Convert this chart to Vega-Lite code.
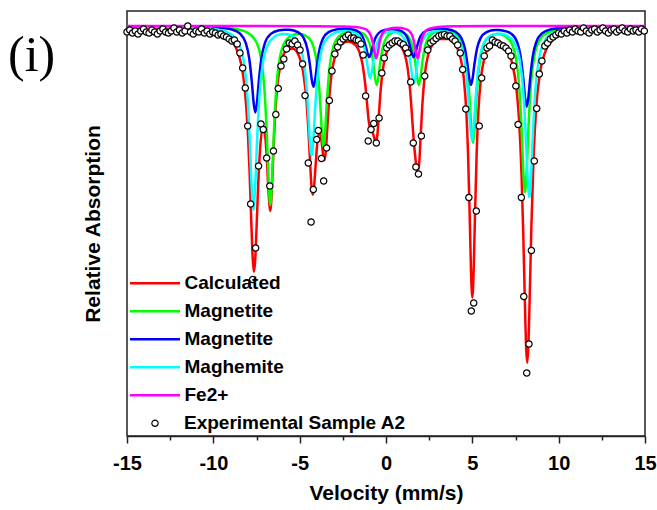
{
"$schema": "https://vega.github.io/schema/vega-lite/v6.json",
"width": 518,
"height": 425,
"autosize": {"type": "none"},
"padding": {"left": 127, "top": 11, "right": 12, "bottom": 74},
"background": "white",
"title": {"text": "(i)", "orient": "top", "anchor": "start", "frame": "group", "offset": 0, "baseline": "alphabetic", "dx": -119, "dy": 110, "font": "Liberation Serif", "fontSize": 50, "fontWeight": "normal", "color": "black"},
"config": {"view": {"stroke": "#222222", "strokeWidth": 1.5}, "axis": {"grid": false}},
"datasets": {
"calc": [{"v":-15,"a":0.9},{"v":-13,"a":1.5},{"v":-11,"a":3.2},{"v":-10,"a":5.6},{"v":-9.5,"a":8.4},{"v":-9,"a":14.2},{"v":-8.7,"a":21.5},{"v":-8.4,"a":37.2},{"v":-8.2,"a":59.5},{"v":-8,"a":106.4},{"v":-7.9,"a":146.3},{"v":-7.8,"a":196.6},{"v":-7.72,"a":232.4},{"v":-7.65,"a":245.8},{"v":-7.58,"a":235.5},{"v":-7.5,"a":203.3},{"v":-7.4,"a":158.3},{"v":-7.3,"a":125.1},{"v":-7.15,"a":102.3},{"v":-7,"a":109.7},{"v":-6.9,"a":133},{"v":-6.8,"a":167.2},{"v":-6.7,"a":184.9},{"v":-6.6,"a":159.4},{"v":-6.5,"a":116.7},{"v":-6.4,"a":82.8},{"v":-6.3,"a":60.8},{"v":-6.1,"a":37.9},{"v":-5.8,"a":25.2},{"v":-5.4,"a":22.6},{"v":-5,"a":31.8},{"v":-4.8,"a":45.7},{"v":-4.6,"a":75.9},{"v":-4.5,"a":101.9},{"v":-4.4,"a":135},{"v":-4.32,"a":159},{"v":-4.25,"a":168.7},{"v":-4.18,"a":163.6},{"v":-4.1,"a":145.3},{"v":-4,"a":121.2},{"v":-3.9,"a":107.7},{"v":-3.8,"a":107.9},{"v":-3.7,"a":120.2},{"v":-3.62,"a":131.9},{"v":-3.55,"a":134.1},{"v":-3.48,"a":123.9},{"v":-3.4,"a":102.2},{"v":-3.3,"a":74.9},{"v":-3.15,"a":47.5},{"v":-2.95,"a":30.7},{"v":-2.6,"a":18.9},{"v":-2.2,"a":15.6},{"v":-1.8,"a":18.5},{"v":-1.5,"a":28.2},{"v":-1.35,"a":39.2},{"v":-1.2,"a":58.6},{"v":-1.1,"a":77},{"v":-1,"a":94.8},{"v":-0.9,"a":103.8},{"v":-0.8,"a":105.5},{"v":-0.7,"a":110.4},{"v":-0.6,"a":117},{"v":-0.5,"a":109},{"v":-0.4,"a":85.5},{"v":-0.3,"a":62.2},{"v":-0.15,"a":40},{"v":0.05,"a":25.8},{"v":0.3,"a":19},{"v":0.6,"a":17.4},{"v":0.9,"a":21.3},{"v":1.1,"a":29.2},{"v":1.25,"a":41.6},{"v":1.4,"a":64.8},{"v":1.5,"a":88.4},{"v":1.6,"a":113.1},{"v":1.7,"a":131.7},{"v":1.8,"a":144.6},{"v":1.9,"a":141.4},{"v":2,"a":113},{"v":2.1,"a":80.3},{"v":2.25,"a":48.3},{"v":2.45,"a":28.3},{"v":2.7,"a":18.2},{"v":3.1,"a":12.9},{"v":3.6,"a":13.1},{"v":4,"a":18.5},{"v":4.3,"a":30.9},{"v":4.5,"a":51.3},{"v":4.65,"a":85},{"v":4.75,"a":126.8},{"v":4.85,"a":191.7},{"v":4.92,"a":242.6},{"v":5,"a":271.4},{"v":5.08,"a":242.8},{"v":5.15,"a":192},{"v":5.25,"a":127.4},{"v":5.35,"a":85.8},{"v":5.5,"a":52.3},{"v":5.7,"a":32.3},{"v":6,"a":20.8},{"v":6.5,"a":17.3},{"v":7,"a":23.9},{"v":7.3,"a":36.8},{"v":7.55,"a":61.8},{"v":7.7,"a":92.5},{"v":7.85,"a":148.5},{"v":7.95,"a":207.9},{"v":8.05,"a":280.9},{"v":8.12,"a":323},{"v":8.18,"a":336.7},{"v":8.25,"a":318.3},{"v":8.32,"a":273.5},{"v":8.42,"a":200.8},{"v":8.55,"a":129.5},{"v":8.7,"a":81.5},{"v":8.9,"a":48.7},{"v":9.2,"a":26.9},{"v":9.6,"a":15.1},{"v":10.2,"a":8.2},{"v":11,"a":4.8},{"v":12,"a":3},{"v":13,"a":2.1},{"v":15,"a":1.3}],
"magB": [{"v":-15,"a":0.29},{"v":-11,"a":0.85},{"v":-9.5,"a":1.75},{"v":-8.5,"a":3.8},{"v":-8.1,"a":6},{"v":-7.6,"a":13.4},{"v":-7.25,"a":31.1},{"v":-7.05,"a":61},{"v":-6.9,"a":109.5},{"v":-6.8,"a":154.3},{"v":-6.7,"a":179},{"v":-6.6,"a":154.4},{"v":-6.5,"a":109.7},{"v":-6.35,"a":61.4},{"v":-6.15,"a":31.8},{"v":-5.8,"a":14.5},{"v":-5.3,"a":8.35},{"v":-5.16,"a":7.9},{"v":-5.02,"a":7.84},{"v":-4.52,"a":11.2},{"v":-4.17,"a":22.5},{"v":-3.97,"a":42.1},{"v":-3.82,"a":74.4},{"v":-3.72,"a":104.4},{"v":-3.62,"a":120.7},{"v":-3.52,"a":104.3},{"v":-3.42,"a":74.2},{"v":-3.27,"a":41.8},{"v":-3.07,"a":22},{"v":-2.72,"a":10.3},{"v":-2.22,"a":5.95},{"v":-2.08,"a":5.5},{"v":-1.94,"a":5.3},{"v":-1.44,"a":6.6},{"v":-1.09,"a":12},{"v":-0.89,"a":21.4},{"v":-0.74,"a":36.8},{"v":-0.64,"a":51.1},{"v":-0.54,"a":59.05},{"v":-0.44,"a":51.2},{"v":-0.34,"a":36.8},{"v":-0.19,"a":21.4},{"v":0.01,"a":12},{"v":0.36,"a":6.76},{"v":0.68,"a":5.77},{"v":1,"a":6.74},{"v":1.35,"a":12},{"v":1.55,"a":21.4},{"v":1.7,"a":36.8},{"v":1.8,"a":51.1},{"v":1.9,"a":59},{"v":2,"a":51.1},{"v":2.1,"a":36.8},{"v":2.25,"a":21.3},{"v":2.45,"a":11.9},{"v":2.8,"a":6.55},{"v":3.3,"a":5.1},{"v":3.47,"a":5.3},{"v":3.64,"a":5.75},{"v":4.14,"a":10.1},{"v":4.49,"a":21.5},{"v":4.69,"a":40.7},{"v":4.84,"a":72},{"v":4.94,"a":101},{"v":5.04,"a":116.9},{"v":5.14,"a":101.1},{"v":5.24,"a":72.2},{"v":5.39,"a":41},{"v":5.59,"a":22},{"v":5.94,"a":11.1},{"v":6.44,"a":8},{"v":6.545,"a":8},{"v":6.65,"a":8.3},{"v":7.15,"a":13.9},{"v":7.5,"a":29.9},{"v":7.7,"a":57.3},{"v":7.85,"a":102},{"v":7.95,"a":143.5},{"v":8.05,"a":166.2},{"v":8.15,"a":143.4},{"v":8.25,"a":101.8},{"v":8.4,"a":56.9},{"v":8.6,"a":29.2},{"v":8.95,"a":12.7},{"v":9.45,"a":5.9},{"v":10.3,"a":2.65},{"v":12,"a":1.1},{"v":15,"a":0.48}],
"magA": [{"v":-15,"a":0.22},{"v":-11,"a":0.67},{"v":-9.5,"a":1.86},{"v":-8.97,"a":3.35},{"v":-8.47,"a":7.42},{"v":-8.12,"a":17.1},{"v":-7.92,"a":32.5},{"v":-7.77,"a":56},{"v":-7.67,"a":76},{"v":-7.57,"a":86.5},{"v":-7.47,"a":76.1},{"v":-7.37,"a":56.1},{"v":-7.22,"a":32.7},{"v":-7.02,"a":17.3},{"v":-6.67,"a":7.9},{"v":-6.17,"a":4.3},{"v":-5.885,"a":3.77},{"v":-5.6,"a":3.87},{"v":-5.1,"a":6.2},{"v":-4.75,"a":12.65},{"v":-4.55,"a":23.3},{"v":-4.4,"a":39.7},{"v":-4.3,"a":53.6},{"v":-4.2,"a":60.85},{"v":-4.1,"a":53.5},{"v":-4,"a":39.6},{"v":-3.85,"a":23.2},{"v":-3.65,"a":12.5},{"v":-3.3,"a":5.9},{"v":-2.8,"a":3.25},{"v":-2.585,"a":2.96},{"v":-2.37,"a":2.86},{"v":-1.87,"a":3.8},{"v":-1.52,"a":6.96},{"v":-1.32,"a":12.28},{"v":-1.17,"a":20.46},{"v":-1.07,"a":27.43},{"v":-0.97,"a":31.1},{"v":-0.87,"a":27.47},{"v":-0.77,"a":20.5},{"v":-0.62,"a":12.32},{"v":-0.42,"a":7},{"v":-0.07,"a":3.89},{"v":0.315,"a":3.15},{"v":0.7,"a":3.87},{"v":1.05,"a":7},{"v":1.25,"a":12.3},{"v":1.4,"a":20.46},{"v":1.5,"a":27.4},{"v":1.6,"a":31.08},{"v":1.7,"a":27.44},{"v":1.8,"a":20.44},{"v":1.95,"a":12.3},{"v":2.15,"a":6.94},{"v":2.5,"a":3.73},{"v":3,"a":2.74},{"v":3.26,"a":2.8},{"v":3.52,"a":3.2},{"v":4.02,"a":5.76},{"v":4.37,"a":12.18},{"v":4.57,"a":22.57},{"v":4.72,"a":38.42},{"v":4.82,"a":51.94},{"v":4.92,"a":58.99},{"v":5.02,"a":51.99},{"v":5.12,"a":38.51},{"v":5.27,"a":22.71},{"v":5.47,"a":12.41},{"v":5.82,"a":6.18},{"v":6.32,"a":4.08},{"v":6.535,"a":4.06},{"v":6.75,"a":4.41},{"v":7.25,"a":7.66},{"v":7.6,"a":16.37},{"v":7.8,"a":30.62},{"v":7.95,"a":52.42},{"v":8.05,"a":71.04},{"v":8.15,"a":80.67},{"v":8.25,"a":70.97},{"v":8.35,"a":52.3},{"v":8.5,"a":30.43},{"v":8.7,"a":16.07},{"v":9.05,"a":7.11},{"v":9.55,"a":3.31},{"v":10.5,"a":1.38},{"v":12,"a":0.62},{"v":15,"a":0.26}],
"maghemite": [{"v":-15,"a":0.56},{"v":-11,"a":1.5},{"v":-9.5,"a":4.4},{"v":-9,"a":7.9},{"v":-8.58,"a":15.7},{"v":-8.23,"a":36.2},{"v":-8.03,"a":69},{"v":-7.88,"a":119},{"v":-7.78,"a":161.7},{"v":-7.68,"a":183.8},{"v":-7.58,"a":161.8},{"v":-7.48,"a":119.1},{"v":-7.33,"a":69.5},{"v":-7.13,"a":36.8},{"v":-6.78,"a":16.8},{"v":-6.28,"a":9.1},{"v":-6,"a":8.05},{"v":-5.71,"a":8.3},{"v":-5.21,"a":13.1},{"v":-4.86,"a":26.9},{"v":-4.66,"a":49.6},{"v":-4.51,"a":84.5},{"v":-4.41,"a":114.2},{"v":-4.31,"a":129.7},{"v":-4.21,"a":114.2},{"v":-4.11,"a":84.3},{"v":-3.96,"a":49.3},{"v":-3.76,"a":26.4},{"v":-3.41,"a":12.2},{"v":-2.91,"a":6.5},{"v":-2.6,"a":5.35},{"v":-2.32,"a":5.07},{"v":-1.82,"a":6.7},{"v":-1.47,"a":11.9},{"v":-1.27,"a":20.8},{"v":-1.12,"a":34.4},{"v":-1.02,"a":46},{"v":-0.92,"a":52.1},{"v":-0.82,"a":46},{"v":-0.72,"a":34.4},{"v":-0.57,"a":20.8},{"v":-0.37,"a":12},{"v":-0.02,"a":6.84},{"v":0.35,"a":5.76},{"v":0.72,"a":7.1},{"v":1.07,"a":12.9},{"v":1.27,"a":22.6},{"v":1.42,"a":37.5},{"v":1.52,"a":50.4},{"v":1.62,"a":57},{"v":1.72,"a":50.4},{"v":1.82,"a":37.5},{"v":1.97,"a":22.6},{"v":2.17,"a":12.8},{"v":2.52,"a":6.9},{"v":3.02,"a":5.1},{"v":3.3,"a":5.2},{"v":3.58,"a":6.1},{"v":4.08,"a":11.1},{"v":4.43,"a":23.7},{"v":4.63,"a":43.9},{"v":4.78,"a":74.8},{"v":4.88,"a":101.1},{"v":4.98,"a":114.9},{"v":5.08,"a":101.2},{"v":5.18,"a":75},{"v":5.33,"a":44.2},{"v":5.53,"a":24.1},{"v":5.88,"a":12},{"v":6.38,"a":7.9},{"v":6.64,"a":7.75},{"v":6.9,"a":8.74},{"v":7.4,"a":15.8},{"v":7.75,"a":34.4},{"v":7.95,"a":64.7},{"v":8.1,"a":111},{"v":8.2,"a":150.6},{"v":8.3,"a":171.1},{"v":8.4,"a":150.5},{"v":8.5,"a":110.8},{"v":8.65,"a":64.4},{"v":8.85,"a":33.9},{"v":9.2,"a":14.8},{"v":9.7,"a":6.8},{"v":10.5,"a":3.1},{"v":12,"a":1.3},{"v":15,"a":0.56}],
"fe2": [{"v":-15,"a":0.01},{"v":-8,"a":0.04},{"v":-4,"a":0.15},{"v":-2.5,"a":0.41},{"v":-1.77,"a":0.96},{"v":-1.27,"a":2.55},{"v":-1.02,"a":5.44},{"v":-0.87,"a":10},{"v":-0.77,"a":16.2},{"v":-0.67,"a":25.8},{"v":-0.57,"a":32.2},{"v":-0.47,"a":25.8},{"v":-0.37,"a":16.3},{"v":-0.27,"a":10.1},{"v":-0.12,"a":5.6},{"v":0.13,"a":2.86},{"v":0.63,"a":1.73},{"v":1.13,"a":2.86},{"v":1.38,"a":5.6},{"v":1.53,"a":10.1},{"v":1.63,"a":16.3},{"v":1.73,"a":25.8},{"v":1.83,"a":32.2},{"v":1.93,"a":25.8},{"v":2.03,"a":16.2},{"v":2.13,"a":10},{"v":2.28,"a":5.45},{"v":2.53,"a":2.55},{"v":3.03,"a":0.96},{"v":4,"a":0.33},{"v":6,"a":0.1},{"v":9,"a":0.04},{"v":15,"a":0.01}],
"expt": [{"v":-15,"a":6},{"v":-14.84,"a":4},{"v":-14.68,"a":7},{"v":-14.52,"a":5},{"v":-14.36,"a":8},{"v":-14.2,"a":5},{"v":-14.04,"a":3},{"v":-13.88,"a":6},{"v":-13.72,"a":7},{"v":-13.56,"a":4},{"v":-13.4,"a":6},{"v":-13.24,"a":8},{"v":-13.08,"a":5},{"v":-12.92,"a":3},{"v":-12.76,"a":6},{"v":-12.6,"a":7},{"v":-12.44,"a":5},{"v":-12.28,"a":2},{"v":-12.12,"a":6},{"v":-11.96,"a":4},{"v":-11.8,"a":7},{"v":-11.64,"a":5},{"v":-11.48,"a":0},{"v":-11.32,"a":6},{"v":-11.16,"a":8},{"v":-11,"a":5},{"v":-10.84,"a":6},{"v":-10.68,"a":3},{"v":-10.52,"a":7},{"v":-10.36,"a":5},{"v":-10.2,"a":8},{"v":-10.04,"a":6},{"v":-9.88,"a":7},{"v":-9.72,"a":9},{"v":-9.56,"a":8},{"v":-9.4,"a":10},{"v":-9.24,"a":11},{"v":-9.08,"a":13},{"v":-8.92,"a":15},{"v":-8.78,"a":14},{"v":-8.62,"a":18},{"v":-8.46,"a":27},{"v":-8.3,"a":42},{"v":-8.15,"a":62},{"v":-8.01,"a":100},{"v":-7.84,"a":178},{"v":-7.72,"a":253.5},{"v":-7.55,"a":222},{"v":-7.38,"a":140},{"v":-7.24,"a":98},{"v":-7.11,"a":103.5},{"v":-6.91,"a":132},{"v":-6.73,"a":160},{"v":-6.52,"a":125},{"v":-6.38,"a":88.5},{"v":-6.24,"a":62.5},{"v":-6.08,"a":40},{"v":-5.92,"a":33},{"v":-5.76,"a":23},{"v":-5.6,"a":17},{"v":-5.44,"a":18},{"v":-5.28,"a":15},{"v":-5.12,"a":19},{"v":-4.98,"a":24},{"v":-4.83,"a":38},{"v":-4.69,"a":69.5},{"v":-4.5,"a":137},{"v":-4.34,"a":196},{"v":-4.21,"a":163.5},{"v":-4.01,"a":113.5},{"v":-3.92,"a":104.5},{"v":-3.74,"a":132.5},{"v":-3.61,"a":155},{"v":-3.44,"a":122},{"v":-3.28,"a":74.5},{"v":-3.13,"a":45},{"v":-2.96,"a":28},{"v":-2.8,"a":21},{"v":-2.64,"a":16},{"v":-2.48,"a":13},{"v":-2.33,"a":11},{"v":-2.18,"a":9},{"v":-2.02,"a":12},{"v":-1.87,"a":12},{"v":-1.73,"a":14},{"v":-1.6,"a":14.5},{"v":-1.45,"a":18},{"v":-1.32,"a":29},{"v":-1.18,"a":70},{"v":-1.03,"a":115},{"v":-0.87,"a":103.5},{"v":-0.71,"a":97.5},{"v":-0.56,"a":117},{"v":-0.4,"a":92},{"v":-0.24,"a":47},{"v":-0.1,"a":32},{"v":0.04,"a":22},{"v":0.2,"a":19},{"v":0.36,"a":17},{"v":0.52,"a":15},{"v":0.68,"a":15},{"v":0.84,"a":17},{"v":1,"a":18.5},{"v":1.14,"a":22},{"v":1.27,"a":27},{"v":1.43,"a":56},{"v":1.58,"a":117},{"v":1.73,"a":141},{"v":1.88,"a":148},{"v":2.05,"a":110},{"v":2.24,"a":50},{"v":2.42,"a":24},{"v":2.58,"a":17},{"v":2.74,"a":15},{"v":2.9,"a":12.5},{"v":3.06,"a":10},{"v":3.22,"a":9},{"v":3.38,"a":8.5},{"v":3.54,"a":10},{"v":3.7,"a":10},{"v":3.86,"a":13},{"v":4,"a":15},{"v":4.15,"a":19},{"v":4.3,"a":27},{"v":4.44,"a":43.5},{"v":4.62,"a":83},{"v":4.8,"a":171.5},{"v":4.94,"a":285},{"v":5.08,"a":277},{"v":5.23,"a":185},{"v":5.4,"a":100},{"v":5.54,"a":52},{"v":5.69,"a":30},{"v":5.85,"a":22},{"v":6,"a":20},{"v":6.16,"a":14},{"v":6.32,"a":16},{"v":6.48,"a":17},{"v":6.64,"a":19},{"v":6.8,"a":20},{"v":6.95,"a":22},{"v":7.1,"a":25},{"v":7.24,"a":30},{"v":7.38,"a":40},{"v":7.52,"a":60},{"v":7.65,"a":98.5},{"v":7.84,"a":171.5},{"v":7.98,"a":270.5},{"v":8.15,"a":347},{"v":8.28,"a":318},{"v":8.42,"a":224.5},{"v":8.59,"a":135},{"v":8.73,"a":82.5},{"v":8.88,"a":48},{"v":9.03,"a":35},{"v":9.2,"a":20},{"v":9.36,"a":17},{"v":9.52,"a":13},{"v":9.68,"a":11},{"v":9.84,"a":9},{"v":10,"a":7},{"v":10.16,"a":8},{"v":10.32,"a":5},{"v":10.48,"a":7},{"v":10.64,"a":4},{"v":10.8,"a":6},{"v":10.96,"a":3},{"v":11.12,"a":5},{"v":11.28,"a":6},{"v":11.44,"a":2},{"v":11.6,"a":5},{"v":11.76,"a":7},{"v":11.92,"a":4},{"v":12.08,"a":3},{"v":12.24,"a":6},{"v":12.4,"a":4},{"v":12.56,"a":2},{"v":12.72,"a":5},{"v":12.88,"a":7},{"v":13.04,"a":4},{"v":13.2,"a":3},{"v":13.36,"a":6},{"v":13.52,"a":4},{"v":13.68,"a":2},{"v":13.84,"a":5},{"v":14,"a":6},{"v":14.16,"a":3},{"v":14.32,"a":5},{"v":14.48,"a":4},{"v":14.64,"a":6},{"v":14.8,"a":3},{"v":14.96,"a":5}]
},
"encoding": {
"x": {"field": "v", "type": "quantitative", "scale": {"domain": [-15, 15], "nice": false, "zero": false},
 "axis": {"values": [-15,-12.5,-10,-7.5,-5,-2.5,0,2.5,5,7.5,10,12.5,15], "labelExpr": "datum.value % 5 == 0 ? '' + datum.value : ''", "tickSize": {"condition": {"test": "datum.value % 5 == 0", "value": 7}, "value": 4}, "tickWidth": 1.5, "tickColor": "#222222", "domainColor": "#222222", "domainWidth": 1.5, "labelFont": "Liberation Sans", "labelFontSize": 20, "labelFontWeight": "bold", "labelColor": "black", "labelPadding": 10, "labelFlush": false, "labelOverlap": false, "title": "Velocity (mm/s)", "titleFont": "Liberation Sans", "titleFontSize": 21, "titleFontWeight": "bold", "titleColor": "black", "titlePadding": 9, "grid": false}},
"y": {"field": "a", "type": "quantitative", "scale": {"domain": [-15, 410], "reverse": true, "nice": false, "zero": false},
 "axis": {"title": "Relative Absorption", "labels": false, "ticks": false, "domain": false, "grid": false, "titleFont": "Liberation Sans", "titleFontSize": 21, "titleFontWeight": "bold", "titleColor": "black", "titlePadding": 24}}
},
"layer": [
{"layer": [
{"data": {"name": "calc"}, "mark": {"type": "line", "strokeWidth": 2.5, "interpolate": "monotone"},
 "encoding": {"stroke": {"datum": "Calculated", "type": "nominal",
  "scale": {"domain": ["Calculated", "Magnetite B", "Magnetite A", "Maghemite", "Fe2+"], "range": ["#ff0000", "#00ff00", "#0000ff", "#00ffff", "#ff00ff"]},
  "legend": {"orient": "none", "legendX": 1.5, "legendY": 262.8, "title": null, "symbolType": "stroke", "symbolSize": 2500, "symbolStrokeWidth": 2.5, "clipHeight": 19, "labelExpr": "indexof(datum.label, 'Magnetite') == 0 ? 'Magnetite' : datum.label", "labelFont": "Liberation Sans", "labelFontSize": 19, "labelFontWeight": "bold", "labelColor": "black", "labelOffset": 3, "rowPadding": 8, "padding": 0, "labelLimit": 0}}}},
{"data": {"name": "magB"}, "mark": {"type": "line", "strokeWidth": 2.5, "interpolate": "monotone"}, "encoding": {"stroke": {"datum": "Magnetite B", "type": "nominal"}}},
{"data": {"name": "magA"}, "mark": {"type": "line", "strokeWidth": 2.5, "interpolate": "monotone"}, "encoding": {"stroke": {"datum": "Magnetite A", "type": "nominal"}}},
{"data": {"name": "maghemite"}, "mark": {"type": "line", "strokeWidth": 2.5, "interpolate": "monotone"}, "encoding": {"stroke": {"datum": "Maghemite", "type": "nominal"}}},
{"data": {"name": "fe2"}, "mark": {"type": "line", "strokeWidth": 2.5, "interpolate": "monotone"}, "encoding": {"stroke": {"datum": "Fe2+", "type": "nominal"}}}
]},
{"data": {"name": "expt"}, "mark": {"type": "point", "filled": false, "fill": "white", "strokeWidth": 1.2, "size": 40, "opacity": 1},
 "encoding": {"stroke": {"datum": "Experimental Sample A2", "type": "nominal",
  "scale": {"domain": ["Experimental Sample A2"], "range": ["black"]},
  "legend": {"orient": "none", "legendX": 18.5, "legendY": 402.8, "title": null, "symbolType": "circle", "symbolSize": 40, "symbolStrokeWidth": 1.2, "symbolFillColor": "white", "symbolOpacity": 1, "labelFont": "Liberation Sans", "labelFontSize": 19, "labelFontWeight": "bold", "labelColor": "black", "labelOffset": 19.5, "padding": 0, "labelLimit": 0}}}}
],
"resolve": {"scale": {"stroke": "independent"}, "legend": {"stroke": "independent"}}
}
